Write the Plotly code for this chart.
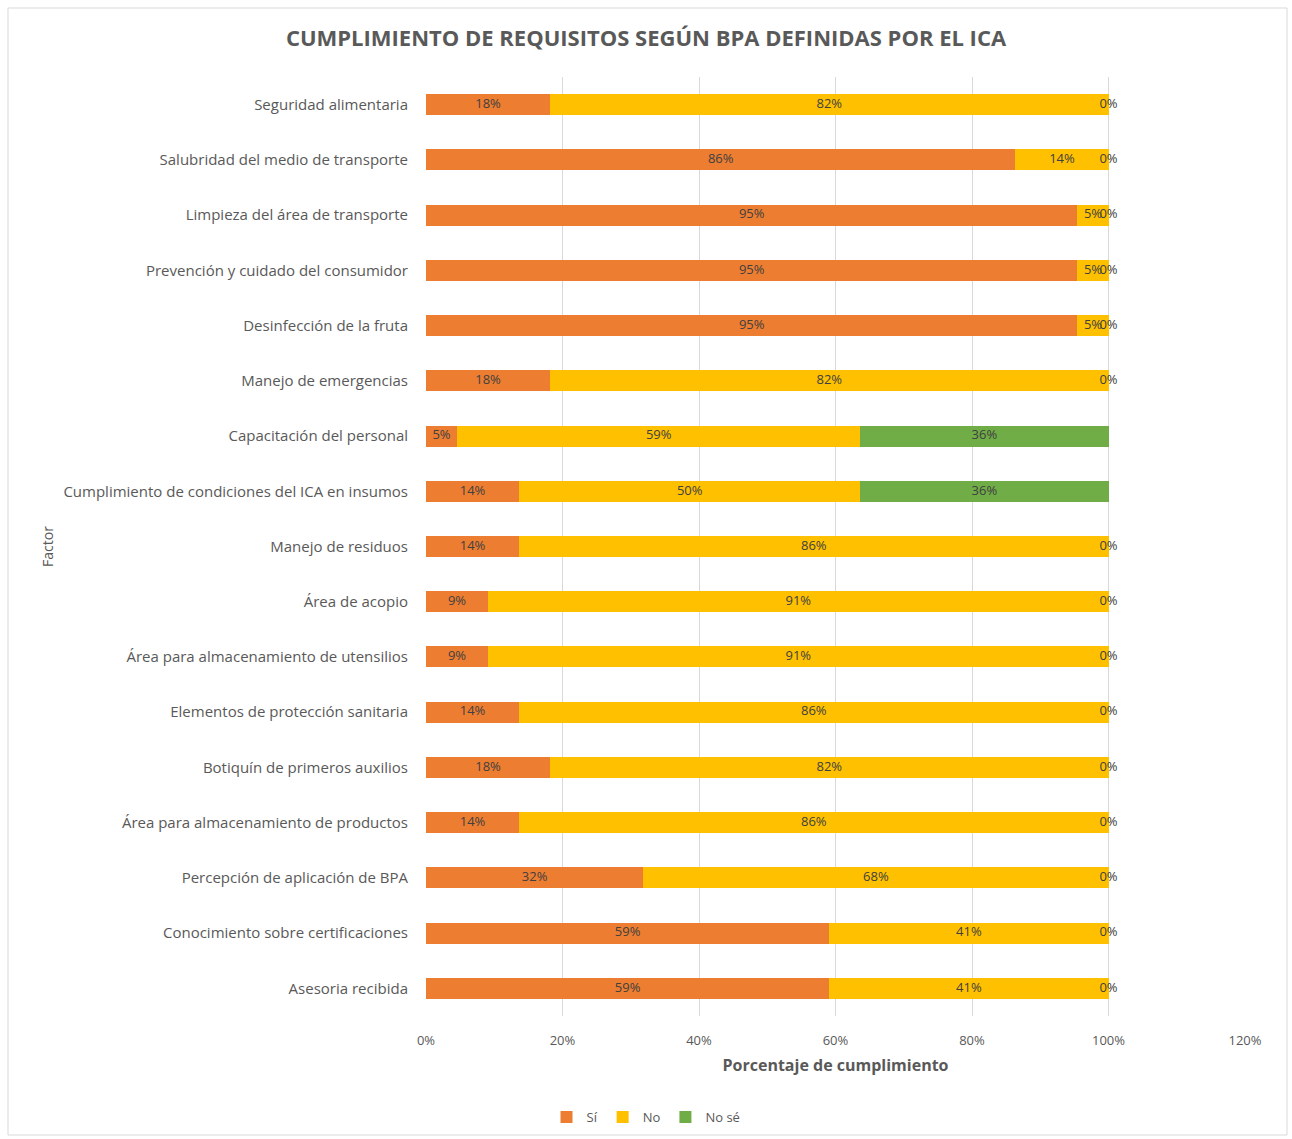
import plotly.graph_objects as go

factores = [
    "Seguridad alimentaria",
    "Salubridad del medio de transporte",
    "Limpieza del área de transporte",
    "Prevención y cuidado del consumidor",
    "Desinfección de la fruta",
    "Manejo de emergencias",
    "Capacitación del personal",
    "Cumplimiento de condiciones del ICA en insumos",
    "Manejo de residuos",
    "Área de acopio",
    "Área para almacenamiento de utensilios",
    "Elementos de protección sanitaria",
    "Botiquín de primeros auxilios",
    "Área para almacenamiento de productos",
    "Percepción de aplicación de BPA",
    "Conocimiento sobre certificaciones",
    "Asesoria recibida",
]
si = [0.1818, 0.8636, 0.9545, 0.9545, 0.9545, 0.1818, 0.0455, 0.1364, 0.1364, 0.0909,
      0.0909, 0.1364, 0.1818, 0.1364, 0.3182, 0.5909, 0.5909]
no = [0.8182, 0.1364, 0.0455, 0.0455, 0.0455, 0.8182, 0.5909, 0.5, 0.8636, 0.9091,
      0.9091, 0.8636, 0.8182, 0.8636, 0.6818, 0.4091, 0.4091]
nose = [0, 0, 0, 0, 0, 0, 0.3636, 0.3636, 0, 0, 0, 0, 0, 0, 0, 0, 0]
x_ticks = [0, 0.2, 0.4, 0.6, 0.8, 1.0, 1.2]

FONT = "Open Sans"
GRAY = "#595959"
series = [("Sí", si, "#ED7D31"), ("No", no, "#FFC000"), ("No sé", nose, "#70AD47")]

fig = go.Figure()
for name, vals, color in series:
    fig.add_trace(go.Bar(
        y=factores, x=vals, name=name, orientation="h",
        marker=dict(color=color, line=dict(width=0)),
        hoverinfo="x+y+name",
    ))

# data labels centered on each segment
base = [0.0] * len(factores)
for name, vals, color in series:
    mids = [b + v / 2 for b, v in zip(base, vals)]
    fig.add_trace(go.Scatter(
        y=factores, x=mids, mode="text",
        text=[f"{v:.0%}" for v in vals],
        textfont=dict(family=FONT, size=13, color="#404040"),
        showlegend=False, hoverinfo="skip",
    ))
    base = [b + v for b, v in zip(base, vals)]

W, H = 1292, 1139
L, R, T, B = 426, 47, 77, 123
pw, ph = W - L - R, H - T - B
n = len(factores)

fig.update_layout(
    width=W, height=H,
    barmode="stack", bargap=0.62,
    plot_bgcolor="white", paper_bgcolor="white",
    margin=dict(l=L, r=R, t=T, b=B, autoexpand=False),
    font=dict(family=FONT, color=GRAY, size=13),
    title=dict(
        text="<b>CUMPLIMIENTO DE REQUISITOS SEGÚN BPA DEFINIDAS POR EL ICA</b>",
        x=0.5, xref="container", xanchor="center",
        y=1 - 38 / H, yanchor="middle",
        font=dict(family=FONT, size=22, color=GRAY),
    ),
    xaxis=dict(
        range=[0, 1.2], tickvals=x_ticks, tickformat=".0%",
        showgrid=True, gridcolor="#d9d9d9", gridwidth=1,
        zeroline=False, showline=False,
        ticks="outside", ticklen=12, tickcolor="rgba(0,0,0,0)",
        tickfont=dict(family=FONT, size=13, color=GRAY),
        title=dict(text="<b>Porcentaje de cumplimiento</b>",
                   font=dict(family=FONT, size=16, color=GRAY), standoff=12),
    ),
    yaxis=dict(
        range=[n - 0.5, -0.5], type="category", autorange=False,
        showgrid=False, zeroline=False, showline=False,
        ticks="outside", ticklen=14, tickcolor="rgba(0,0,0,0)",
        tickfont=dict(family=FONT, size=15, color=GRAY),
        title=dict(text="Factor", font=dict(family=FONT, size=14, color=GRAY), standoff=6),
    ),
    legend=dict(
        orientation="h", x=(646 - L) / pw, xanchor="center",
        y=(H - B - 1117) / ph, yanchor="middle",
        font=dict(family=FONT, size=13, color=GRAY),
        traceorder="normal", itemwidth=30,
    ),
    shapes=[dict(
        type="rect", xref="paper", yref="paper",
        x0=(8 - L) / pw, x1=(1287 - L) / pw,
        y0=(H - B - 1135) / ph, y1=(H - B - 8) / ph,
        line=dict(color="#d9d9d9", width=1), fillcolor="rgba(0,0,0,0)", layer="below",
    )],
)

fig.write_html("out.html")
